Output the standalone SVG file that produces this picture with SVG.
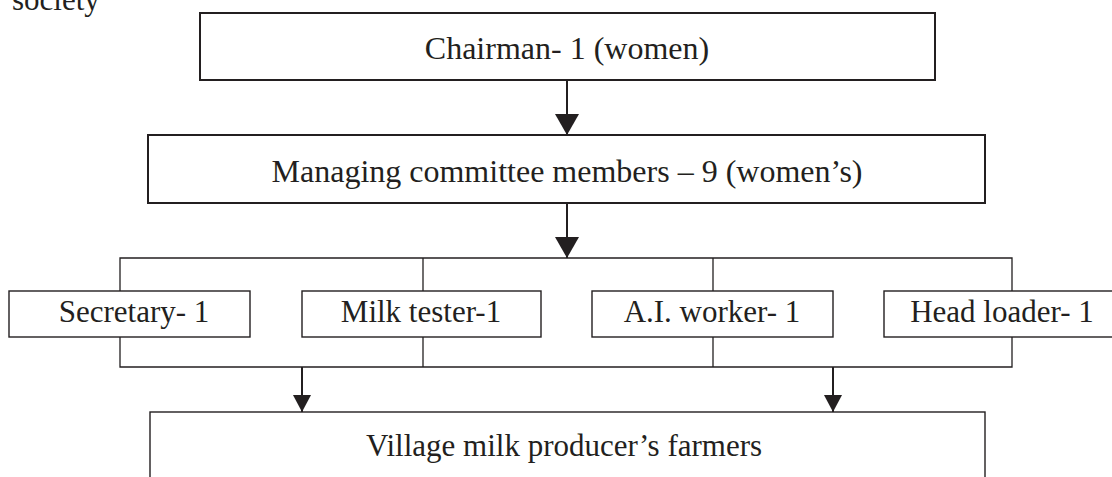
<svg xmlns="http://www.w3.org/2000/svg" width="1112" height="477" viewBox="0 0 1112 477">
<style>
text{font-family:"Liberation Serif","Times New Roman",serif;fill:#231f20;text-anchor:middle}
.big{font-size:32px}
.sm{font-size:31px}
.bx{fill:#fff;stroke:#231f20;stroke-width:2}
.bs{fill:#fff;stroke:#231f20;stroke-width:1.4}
.ln{fill:none;stroke:#231f20;stroke-width:1.3}
.ar{fill:none;stroke:#231f20;stroke-width:2}
</style>
<defs>
<marker id="ah" markerUnits="userSpaceOnUse" markerWidth="24" markerHeight="22" viewBox="0 0 24 22" refX="12" refY="21" orient="auto-start-reverse">
<path d="M0,0 L24,0 L12,21 Z" fill="#231f20" transform="rotate(-90 12 11)"/>
</marker>
<marker id="ah2" markerUnits="userSpaceOnUse" markerWidth="18" markerHeight="18" viewBox="0 0 18 18" refX="9" refY="17" orient="0">
<path d="M0,0 L18,0 L9,17 Z" fill="#231f20"/>
</marker>
<marker id="ah1" markerUnits="userSpaceOnUse" markerWidth="24" markerHeight="22" viewBox="0 0 24 22" refX="12" refY="21" orient="0">
<path d="M0,0 L24,0 L12,21 Z" fill="#231f20"/>
</marker>
</defs>
<text x="12" y="10" class="sm" style="text-anchor:start">society</text>
<g id="chairman">
<rect class="bx" x="200" y="13" width="735" height="67"/>
<text class="big" x="567" y="58.5">Chairman- 1 (women)</text>
</g>
<g id="committee">
<rect class="bx" x="148" y="135" width="837" height="68"/>
<text class="big" x="567" y="181.5">Managing committee members – 9 (women’s)</text>
</g>
<g id="connectors">
<line class="ar" x1="567" y1="80" x2="567" y2="135" marker-end="url(#ah1)"/>
<line class="ar" x1="567" y1="203" x2="567" y2="258" marker-end="url(#ah1)"/>
<polyline class="ln" points="120,291 120,258 1012,258 1012,291"/>
<line class="ln" x1="423" y1="258" x2="423" y2="291"/>
<line class="ln" x1="713" y1="258" x2="713" y2="291"/>
<polyline class="ln" points="120,337 120,367 1012,367 1012,337"/>
<line class="ln" x1="423" y1="337" x2="423" y2="367"/>
<line class="ln" x1="713" y1="337" x2="713" y2="367"/>
<line class="ar" x1="302" y1="367" x2="302" y2="412" marker-end="url(#ah2)"/>
<line class="ar" x1="833" y1="367" x2="833" y2="412" marker-end="url(#ah2)"/>
</g>
<g id="secretary">
<rect class="bs" x="9" y="291" width="241" height="46"/>
<text class="sm" x="134" y="322">Secretary- 1</text>
</g>
<g id="milk-tester">
<rect class="bs" x="302" y="291" width="239" height="46"/>
<text class="sm" x="421" y="322">Milk tester-1</text>
</g>
<g id="ai-worker">
<rect class="bs" x="592" y="291" width="241" height="46"/>
<text class="sm" x="712" y="322">A.I. worker- 1</text>
</g>
<g id="head-loader">
<rect class="bs" x="884" y="291" width="240" height="46"/>
<text class="sm" x="1002" y="322">Head loader- 1</text>
</g>
<g id="village">
<rect class="bs" x="150" y="412" width="835" height="80"/>
<text class="sm" x="564" y="456">Village milk producer’s farmers</text>
</g>
</svg>
